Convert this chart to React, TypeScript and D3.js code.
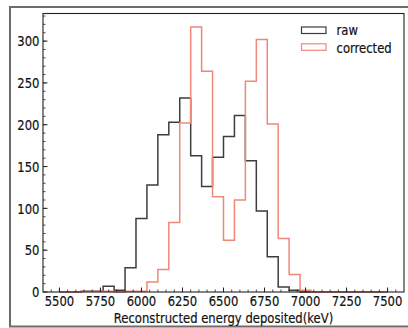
import React from "react";
import * as d3 from "d3";

const binStart = 5500;
const binEnd = 7500;
const binCount = 30;
const rawCounts = [0, 0, 1, 1, 7, 2, 29, 88, 128, 188, 203, 232, 163, 126, 161, 186, 211, 157, 97, 42, 6, 2, 0, 0, 0, 0, 0, 0, 0, 0];
const correctedCounts = [0, 0, 1, 1, 1, 0, 1, 1, 12, 27, 83, 202, 317, 264, 114, 62, 110, 252, 302, 201, 64, 21, 2, 0, 0, 0, 0, 0, 0, 0];
const xTicks = [5500, 5750, 6000, 6250, 6500, 6750, 7000, 7250, 7500];
const yTicks = [0, 50, 100, 150, 200, 250, 300];
const seriesNames = ["raw", "corrected"];
const xLabel = "Reconstructed energy deposited(keV)";

const W = 408, H = 328;
const L = 43, R = 404, T = 13.5, B = 292;
const FONT = "DejaVu Sans";
const FS = 14;
const SX = 0.83;
const RAW_COLOR = "#3d3d3d";
const COR_COLOR = "#f0887a";
const TXT = "#111";

export default function App() {
  const x = d3.scaleLinear().domain([5400, 7600]).range([L, R]);
  const y = d3.scaleLinear().domain([0, 333]).range([B, T]);
  const width = (binEnd - binStart) / binCount;

  const stepPoints = (vals: number[]) => {
    const pts: [number, number][] = [[binStart, 0]];
    vals.forEach((v, i) => {
      pts.push([binStart + i * width, v]);
      pts.push([binStart + (i + 1) * width, v]);
    });
    pts.push([binEnd, 0]);
    return pts;
  };
  const line = d3.line<[number, number]>().x(d => x(d[0])).y(d => y(d[1]));

  const xMinor = d3.range(5400, 7601, 50);
  const yMinor = d3.range(0, 331, 10);

  const txt = (tx: number, ty: number, s: string, anchor: string) => (
    <text transform={`translate(${tx},${ty}) scale(${SX},1)`} textAnchor={anchor}
      fontFamily={FONT} fontSize={FS} fill={TXT} stroke={TXT} strokeWidth={0.2}>{s}</text>
  );

  return (
    <svg width={W} height={H} style={{ position: "absolute", left: 0, top: 0, background: "#fff" }}>
      <rect x={0} y={0} width={W} height={H} fill="#fff" />
      <rect x={10} y={7} width={402} height={319.5} fill="none" stroke="#6b6b6b" strokeWidth={2} />
      <path d={line(stepPoints(rawCounts)) || ""} fill="none" stroke={RAW_COLOR} strokeWidth={1.5} />
      <path d={line(stepPoints(correctedCounts)) || ""} fill="none" stroke={COR_COLOR} strokeWidth={1.5} />
      <rect x={L} y={T} width={R - L} height={B - T} fill="none" stroke="#222" strokeWidth={1.1} />
      {xMinor.filter(v => x(v) > L + 0.5 && x(v) < R - 0.5).map(v => (
        <line key={"xm" + v} x1={x(v)} x2={x(v)} y1={B} y2={B - 2.5} stroke="#222" strokeWidth={0.8} />
      ))}
      {yMinor.filter(v => y(v) > T + 0.5 && y(v) < B - 0.5).map(v => (
        <line key={"ym" + v} x1={L} x2={L + 2.5} y1={y(v)} y2={y(v)} stroke="#222" strokeWidth={0.8} />
      ))}
      {xTicks.map(v => (
        <g key={"xt" + v}>
          <line x1={x(v)} x2={x(v)} y1={B} y2={B - 4.5} stroke="#222" strokeWidth={1} />
          {txt(x(v), 305.8, String(v), "middle")}
        </g>
      ))}
      {yTicks.map(v => (
        <g key={"yt" + v}>
          <line x1={L} x2={L + 4.5} y1={y(v)} y2={y(v)} stroke="#222" strokeWidth={1} />
          {txt(39.5, y(v) + 5.2, String(v), "end")}
        </g>
      ))}
      {txt((L + R) / 2, 322.5, xLabel, "middle")}
      <rect x={301.5} y={27} width={24.5} height={6.5} fill="none" stroke={RAW_COLOR} strokeWidth={1.2} />
      <rect x={301.5} y={43.8} width={24.5} height={6.5} fill="none" stroke={COR_COLOR} strokeWidth={1.2} />
      {txt(336.5, 35, seriesNames[0], "start")}
      {txt(336.5, 52.5, seriesNames[1], "start")}
    </svg>
  );
}
